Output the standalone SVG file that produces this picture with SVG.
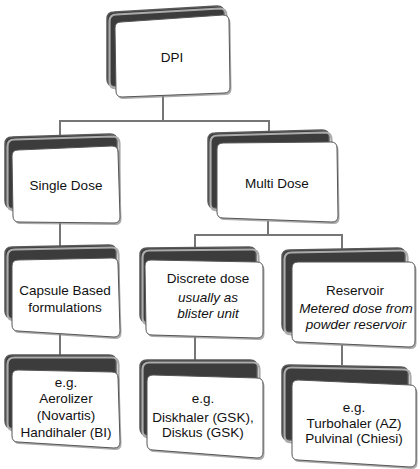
<svg xmlns="http://www.w3.org/2000/svg" width="420" height="469" viewBox="0 0 420 469">
<style>
.back{fill:#3c3c3c;stroke:#5a5a5a;stroke-width:1.5}
.hl{fill:none;stroke:#ababab;stroke-width:2.2}
.shadow{fill:#888;opacity:0.7}
.front{fill:#fff;stroke:#555;stroke-width:1}
.conn{fill:none;stroke:#767676;stroke-width:2}
text{font-family:"Liberation Sans",Arial,sans-serif;font-size:13.5px;fill:#111;text-anchor:middle}
.it{font-style:italic}
</style>
<g id="connectors">
<path class="conn" d="M163,96 V121"/>
<path class="conn" d="M60,137 V121 H269 V131"/>
<path class="conn" d="M60,222 V247"/>
<path class="conn" d="M268,221 V235"/>
<path class="conn" d="M195,248 V235 H342 V250"/>
<path class="conn" d="M60,334 V355"/>
<path class="conn" d="M195,337 V360"/>
<path class="conn" d="M342,345 V365"/>
</g>
<g id="dpi">
<path class="back" d="M107,19 Q107,12 114,12 L217,6 Q224,6 224,13 L224,73 Q224,80 217,80 L114,86 Q107,86 107,79 Z"/>
<path class="hl" transform="translate(2.5,2.5)" d="M107,19 Q107,12 114,12 L217,6 Q224,6 224,13 L224,73 Q224,80 217,80 L114,86 Q107,86 107,79 Z"/>
<path class="shadow" transform="translate(1.5,2)" d="M115,28 Q115,22 121,22 L223,15 Q229,15 229,21 L230,87 Q230,93 224,93 L122,97 Q116,97 116,91 Z"/>
<path class="front" d="M115,28 Q115,22 121,22 L223,15 Q229,15 229,21 L230,87 Q230,93 224,93 L122,97 Q116,97 116,91 Z"/>
<text x="172" y="62">DPI</text>
</g>
<g id="single">
<path class="back" d="M5,144 Q5,137 12,137 L110,134 Q117,134 117,141 L117,198 Q117,205 110,205 L12,208 Q5,208 5,201 Z"/>
<path class="hl" transform="translate(2.5,2.5)" d="M5,144 Q5,137 12,137 L110,134 Q117,134 117,141 L117,198 Q117,205 110,205 L12,208 Q5,208 5,201 Z"/>
<path class="shadow" transform="translate(1.5,2)" d="M12,156 Q12,150 18,150 L112,146 Q118,146 118,152 L120,217 Q120,223 114,223 L19,222 Q13,222 13,216 Z"/>
<path class="front" d="M12,156 Q12,150 18,150 L112,146 Q118,146 118,152 L120,217 Q120,223 114,223 L19,222 Q13,222 13,216 Z"/>
<text x="66" y="190">Single Dose</text>
</g>
<g id="multi">
<path class="back" d="M208,140 Q208,133 215,133 L322,130 Q329,130 329,137 L329,198 Q329,205 322,205 L215,208 Q208,208 208,201 Z"/>
<path class="hl" transform="translate(2.5,2.5)" d="M208,140 Q208,133 215,133 L322,130 Q329,130 329,137 L329,198 Q329,205 322,205 L215,208 Q208,208 208,201 Z"/>
<path class="shadow" transform="translate(1.5,2)" d="M217,149 Q217,143 223,143 L331,142 Q337,142 337,148 L338,216 Q338,222 332,222 L223,218 Q217,218 217,212 Z"/>
<path class="front" d="M217,149 Q217,143 223,143 L331,142 Q337,142 337,148 L338,216 Q338,222 332,222 L223,218 Q217,218 217,212 Z"/>
<text x="277" y="188">Multi Dose</text>
</g>
<g id="capsule">
<path class="back" d="M5,254 Q5,247 12,247 L109,245 Q116,245 116,252 L116,309 Q116,316 109,316 L12,318 Q5,318 5,311 Z"/>
<path class="hl" transform="translate(2.5,2.5)" d="M5,254 Q5,247 12,247 L109,245 Q116,245 116,252 L116,309 Q116,316 109,316 L12,318 Q5,318 5,311 Z"/>
<path class="shadow" transform="translate(1.5,2)" d="M12,266 Q12,260 18,260 L112,258 Q118,258 118,264 L120,331 Q120,337 114,337 L18,331 Q12,331 12,325 Z"/>
<path class="front" d="M12,266 Q12,260 18,260 L112,258 Q118,258 118,264 L120,331 Q120,337 114,337 L18,331 Q12,331 12,325 Z"/>
<text x="65" y="295">Capsule Based</text>
<text x="65" y="312">formulations</text>
</g>
<g id="discrete">
<path class="back" d="M140,255 Q140,248 147,248 L249,247 Q256,247 256,254 L256,314 Q256,321 249,321 L147,322 Q140,322 140,315 Z"/>
<path class="hl" transform="translate(2.5,2.5)" d="M140,255 Q140,248 147,248 L249,247 Q256,247 256,254 L256,314 Q256,321 249,321 L147,322 Q140,322 140,315 Z"/>
<path class="shadow" transform="translate(1.5,2)" d="M145,266 Q145,260 151,260 L257,262 Q263,262 263,268 L263,332 Q263,338 257,338 L152,335 Q146,335 146,329 Z"/>
<path class="front" d="M145,266 Q145,260 151,260 L257,262 Q263,262 263,268 L263,332 Q263,338 257,338 L152,335 Q146,335 146,329 Z"/>
<text x="208" y="283">Discrete dose</text>
<text class="it" x="208" y="302">usually as</text>
<text class="it" x="208" y="318">blister unit</text>
</g>
<g id="reservoir">
<path class="back" d="M282,257 Q282,250 289,250 L398,248 Q405,248 405,255 L405,323 Q405,330 398,330 L289,332 Q282,332 282,325 Z"/>
<path class="hl" transform="translate(2.5,2.5)" d="M282,257 Q282,250 289,250 L398,248 Q405,248 405,255 L405,323 Q405,330 398,330 L289,332 Q282,332 282,325 Z"/>
<path class="shadow" transform="translate(1.5,2)" d="M292,268 Q292,262 298,262 L409,262 Q415,262 415,268 L415,341 Q415,347 409,347 L298,342 Q292,342 292,336 Z"/>
<path class="front" d="M292,268 Q292,262 298,262 L409,262 Q415,262 415,268 L415,341 Q415,347 409,347 L298,342 Q292,342 292,336 Z"/>
<text x="355" y="295">Reservoir</text>
<text class="it" x="356" y="313">Metered dose from</text>
<text class="it" x="356" y="329">powder reservoir</text>
</g>
<g id="aerolizer">
<path class="back" d="M5,362 Q5,355 12,355 L109,355 Q116,355 116,362 L116,421 Q116,428 109,428 L12,428 Q5,428 5,421 Z"/>
<path class="hl" transform="translate(2.5,2.5)" d="M5,362 Q5,355 12,355 L109,355 Q116,355 116,362 L116,421 Q116,428 109,428 L12,428 Q5,428 5,421 Z"/>
<path class="shadow" transform="translate(1.5,2)" d="M12,376 Q12,370 18,370 L112,372 Q118,372 118,378 L120,442 Q120,448 114,448 L18,442 Q12,442 12,436 Z"/>
<path class="front" d="M12,376 Q12,370 18,370 L112,372 Q118,372 118,378 L120,442 Q120,448 114,448 L18,442 Q12,442 12,436 Z"/>
<text x="66" y="387">e.g.</text>
<text x="66" y="403">Aerolizer</text>
<text x="66" y="420">(Novartis)</text>
<text x="66" y="437">Handihaler (BI)</text>
</g>
<g id="diskhaler">
<path class="back" d="M140,367 Q140,360 147,360 L250,360 Q257,360 257,367 L257,428 Q257,435 250,435 L147,435 Q140,435 140,428 Z"/>
<path class="hl" transform="translate(2.5,2.5)" d="M140,367 Q140,360 147,360 L250,360 Q257,360 257,367 L257,428 Q257,435 250,435 L147,435 Q140,435 140,428 Z"/>
<path class="shadow" transform="translate(1.5,2)" d="M147,381 Q147,375 153,375 L257,378 Q263,378 263,384 L263,452 Q263,458 257,458 L153,450 Q147,450 147,444 Z"/>
<path class="front" d="M147,381 Q147,375 153,375 L257,378 Q263,378 263,384 L263,452 Q263,458 257,458 L153,450 Q147,450 147,444 Z"/>
<text x="203" y="403">e.g.</text>
<text x="203" y="422">Diskhaler (GSK),</text>
<text x="203" y="437">Diskus (GSK)</text>
</g>
<g id="turbohaler">
<path class="back" d="M282,372 Q282,365 289,365 L401,367 Q408,367 408,374 L408,435 Q408,442 401,442 L289,440 Q282,440 282,433 Z"/>
<path class="hl" transform="translate(2.5,2.5)" d="M282,372 Q282,365 289,365 L401,367 Q408,367 408,374 L408,435 Q408,442 401,442 L289,440 Q282,440 282,433 Z"/>
<path class="shadow" transform="translate(1.5,2)" d="M292,386 Q292,380 298,380 L410,385 Q416,385 416,391 L416,461 Q416,467 410,467 L298,460 Q292,460 292,454 Z"/>
<path class="front" d="M292,386 Q292,380 298,380 L410,385 Q416,385 416,391 L416,461 Q416,467 410,467 L298,460 Q292,460 292,454 Z"/>
<text x="354" y="412">e.g.</text>
<text x="354" y="428">Turbohaler (AZ)</text>
<text x="354" y="443">Pulvinal (Chiesi)</text>
</g>
</svg>
